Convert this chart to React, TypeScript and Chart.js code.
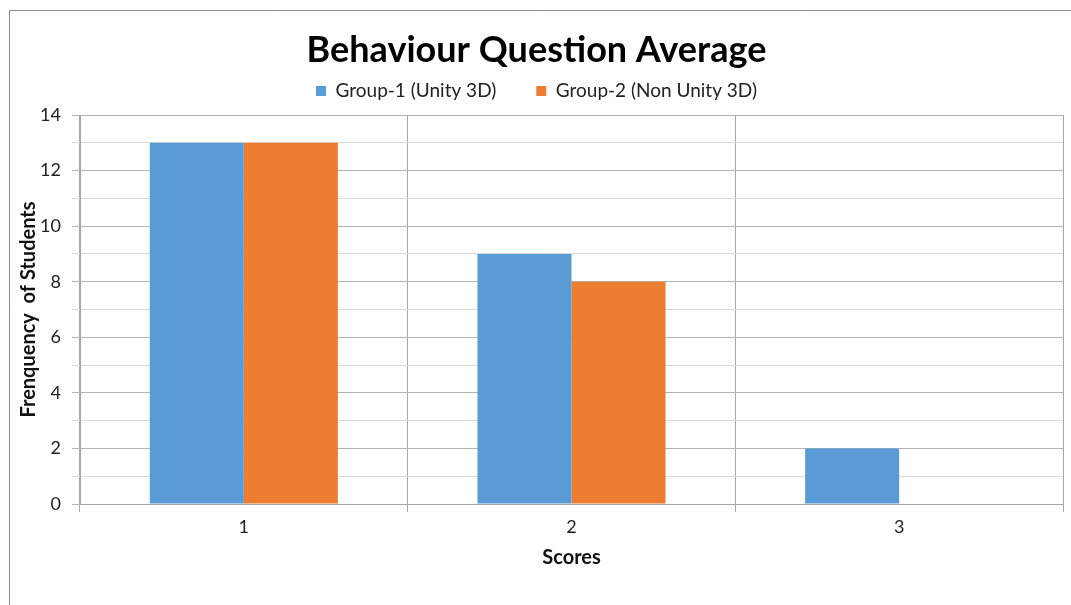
import React, { useEffect, useRef } from 'react';
import { Chart, registerables } from 'chart.js';

Chart.register(...registerables);

const categories = ['1', '2', '3'];
const group1Values = [13, 9, 2];
const group2Values = [13, 8, 0];
const seriesNames = ['Group-1 (Unity 3D)', 'Group-2 (Non Unity 3D)'];
const chartTitle = 'Behaviour Question Average';
const yAxisTitle = 'Frenquency  of Students';
const xAxisTitle = 'Scores';
const yMin = 0;
const yMax = 14;

const FONT = 'Lato, "Open Sans", sans-serif';

const borderPlugin = {
  id: 'outerBorder',
  beforeDraw(chart: any) {
    const ctx = chart.ctx;
    ctx.save();
    ctx.fillStyle = '#ffffff';
    ctx.fillRect(0, 0, chart.width, chart.height);
    ctx.strokeStyle = '#8c8c8c';
    ctx.lineWidth = 1;
    ctx.beginPath();
    ctx.moveTo(9.5, chart.height);
    ctx.lineTo(9.5, 10.5);
    ctx.lineTo(chart.width, 10.5);
    ctx.stroke();
    ctx.restore();
  },
};

export default function App() {
  const ref = useRef<HTMLCanvasElement | null>(null);

  useEffect(() => {
    if (!ref.current) return;
    const chart = new Chart(ref.current, {
      type: 'bar',
      data: {
        labels: categories,
        datasets: [
          {
            label: seriesNames[0],
            data: group1Values,
            backgroundColor: '#5B9BD5',
            borderWidth: 0,
            categoryPercentage: 0.574,
            barPercentage: 1.0,
          },
          {
            label: seriesNames[1],
            data: group2Values,
            backgroundColor: '#ED7D31',
            borderWidth: 0,
            categoryPercentage: 0.574,
            barPercentage: 1.0,
          },
        ],
      },
      options: {
        responsive: false,
        animation: false,
        layout: { padding: { left: 10, right: 8, top: 0, bottom: 21 } },
        plugins: {
          tooltip: { enabled: false },
          title: {
            display: true,
            text: chartTitle,
            color: '#000000',
            font: { family: FONT, size: 36, weight: 'bold', lineHeight: 1.2 },
            padding: { top: 29, bottom: -30.7 },
          },
          subtitle: {
            display: true,
            text: '',
            weight: 500,
            font: { size: 1, lineHeight: 1 },
            padding: { top: 0, bottom: 3.5 },
          },
          legend: {
            display: true,
            position: 'top',
            labels: {
              boxWidth: 10,
              boxHeight: 10,
              padding: 40,
              color: '#222222',
              font: { family: FONT, size: 19 },
            },
          },
        },
        scales: {
          x: {
            offset: true,
            grid: {
              offset: true,
              color: '#a6a6a6',
              tickLength: 8,
              drawTicks: true,
            },
            border: { color: '#a6a6a6' },
            ticks: {
              color: '#222222',
              font: { family: FONT, size: 18 },
              padding: 4,
            },
            title: {
              display: true,
              text: xAxisTitle,
              color: '#111111',
              font: { family: FONT, size: 20, weight: 'bold', lineHeight: 1.2 },
              padding: { top: 4, bottom: 14 },
            },
            afterFit: (s: any) => {
              s.height = 80;
            },
          },
          y: {
            min: yMin,
            max: yMax,
            grid: {
              color: (c: any) => (c.tick && c.tick.value % 2 === 0 ? '#b4b4b4' : '#dadada'),
              tickLength: 8,
            },
            border: { color: '#a6a6a6' },
            ticks: {
              stepSize: 1,
              autoSkip: false,
              color: '#222222',
              font: { family: FONT, size: 18 },
              padding: 11,
              callback: (v: any) => (Number(v) % 2 === 0 ? String(v) : ''),
            },
            title: {
              display: true,
              text: yAxisTitle,
              color: '#111111',
              font: { family: FONT, size: 20, weight: 'bold', lineHeight: 1.2 },
              padding: { top: 7, bottom: 4 },
            },
            afterFit: (s: any) => {
              s.width = 70;
            },
          },
        },
      },
      plugins: [borderPlugin],
    } as any);
    return () => chart.destroy();
  }, []);

  return (
    <div style={{ position: 'fixed', left: 0, top: 0, width: 1071, height: 605, background: '#fff' }}>
      <canvas ref={ref} width={1071} height={605} style={{ display: 'block' }} />
    </div>
  );
}
